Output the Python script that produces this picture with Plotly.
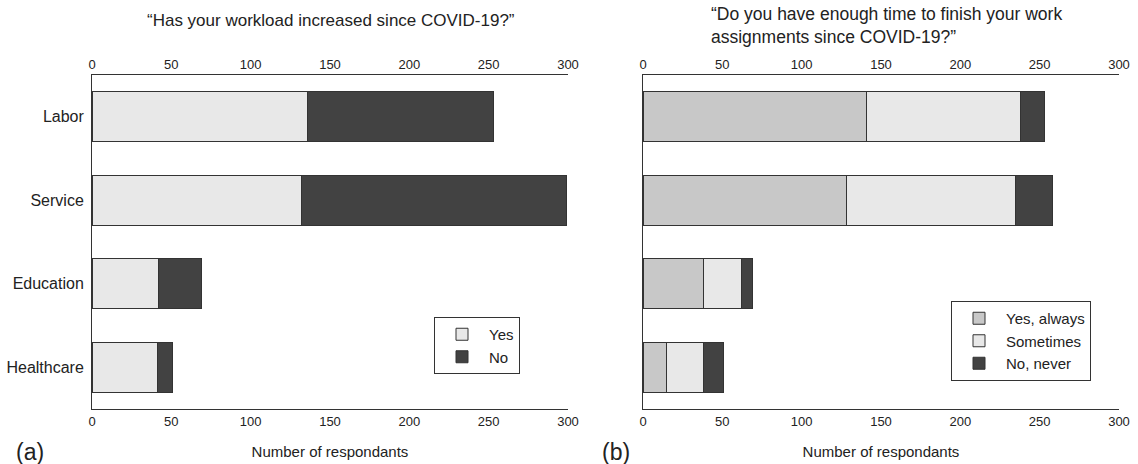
import plotly.graph_objects as go

categories = ["Labor", "Service", "Education", "Healthcare"]

# Panel (a): "Has your workload increased since COVID-19?"
workload_yes = [136, 132, 42, 41]
workload_no = [117, 167, 27, 10]

# Panel (b): "Do you have enough time to finish your work assignments since COVID-19?"
time_always = [141, 128, 38, 15]
time_sometimes = [97, 107, 24, 23]
time_never = [15, 23, 7, 13]

tick_vals = [0, 50, 100, 150, 200, 250, 300]

LIGHT = "#e8e8e8"
MID = "#c8c8c8"
DARK = "#424242"
EDGE = "#333333"
AXIS = "#333333"
TXT = "#222222"
FONT = "Liberation Sans, Arial, sans-serif"

W, H = 1138, 464
def px_x(p):
    return p / W
def px_y(p):
    return 1 - p / H

fig = go.Figure()

def bar(name, vals, color, xa, ya, leg):
    fig.add_trace(go.Bar(
        name=name, y=categories, x=vals, orientation="h",
        marker=dict(color=color, line=dict(color=EDGE, width=1)),
        width=0.6, xaxis=xa, yaxis=ya, legend=leg,
        hovertemplate=name + ": %{x}<extra>%{y}</extra>",
    ))

bar("Yes", workload_yes, LIGHT, "x", "y", "legend")
bar("No", workload_no, DARK, "x", "y", "legend")
bar("Yes, always", time_always, MID, "x2", "y2", "legend2")
bar("Sometimes", time_sometimes, LIGHT, "x2", "y2", "legend2")
bar("No, never", time_never, DARK, "x2", "y2", "legend2")

# invisible helpers so the top (mirrored) axes get drawn
for xa, ya, vals in (("x3", "y", workload_yes), ("x4", "y2", time_always)):
    fig.add_trace(go.Scatter(x=vals, y=categories, xaxis=xa, yaxis=ya, mode="markers",
                             marker=dict(opacity=0), showlegend=False, hoverinfo="skip"))

dom_l = [px_x(92), px_x(568)]
dom_r = [px_x(643), px_x(1119)]
dom_y = [px_y(409), px_y(75)]

axis_common = dict(range=[0, 300], tickvals=tick_vals, showline=True, linecolor=AXIS,
                   linewidth=1, ticks="", showgrid=False, zeroline=False, automargin=False,
                   tickfont=dict(size=13, color=TXT), fixedrange=True)

title_x = dict(text="Number of respondants", font=dict(size=15, color=TXT), standoff=18)

legend_common = dict(xanchor="left", yanchor="top", bordercolor=AXIS, borderwidth=1,
                     bgcolor="white", font=dict(size=15, color=TXT), traceorder="normal",
                     tracegroupgap=0, itemwidth=44)

fig.update_layout(
    width=W, height=H,
    margin=dict(l=0, r=0, t=0, b=0),
    paper_bgcolor="white", plot_bgcolor="white",
    font=dict(family=FONT, color=TXT, size=14),
    barmode="stack",
    xaxis=dict(domain=dom_l, anchor="y", side="bottom", title=title_x, **axis_common),
    xaxis3=dict(domain=dom_l, anchor="y", side="top", overlaying="x", **axis_common),
    xaxis2=dict(domain=dom_r, anchor="y2", side="bottom", title=title_x, **axis_common),
    xaxis4=dict(domain=dom_r, anchor="y2", side="top", overlaying="x2", **axis_common),
    yaxis=dict(domain=dom_y, anchor="x", categoryorder="array", categoryarray=categories,
               autorange="reversed", showline=True, linecolor=AXIS, ticks="", automargin=False,
               showgrid=False, tickfont=dict(size=16, color=TXT), fixedrange=True,
               ticklabelstandoff=4),
    yaxis2=dict(domain=dom_y, anchor="x2", categoryorder="array", categoryarray=categories,
                autorange="reversed", showline=True, linecolor=AXIS, ticks="", automargin=False,
                showgrid=False, showticklabels=False, fixedrange=True),
    legend=dict(x=px_x(434), y=px_y(317), **legend_common),
    legend2=dict(x=px_x(951), y=px_y(301), **legend_common),
    annotations=[
        dict(text="\u201cHas your workload increased since COVID-19?\u201d",
             x=px_x(331), y=px_y(20), xref="paper", yref="paper",
             xanchor="center", yanchor="middle", showarrow=False,
             font=dict(size=17, color=TXT)),
        dict(text="\u201cDo you have enough time to finish your work<br>assignments since COVID-19?\u201d",
             x=px_x(709), y=px_y(26), xref="paper", yref="paper",
             xanchor="left", yanchor="middle", align="left", showarrow=False,
             font=dict(size=17.5, color=TXT)),
        dict(text="(a)", x=px_x(14), y=px_y(452), xref="paper", yref="paper",
             xanchor="left", yanchor="middle", showarrow=False, font=dict(size=23, color=TXT)),
        dict(text="(b)", x=px_x(600), y=px_y(452), xref="paper", yref="paper",
             xanchor="left", yanchor="middle", showarrow=False, font=dict(size=23, color=TXT)),
    ],
)

fig.write_html("out.html", config={"displayModeBar": False},
               post_script="document.body.style.margin='0';document.body.style.overflow='hidden';")
